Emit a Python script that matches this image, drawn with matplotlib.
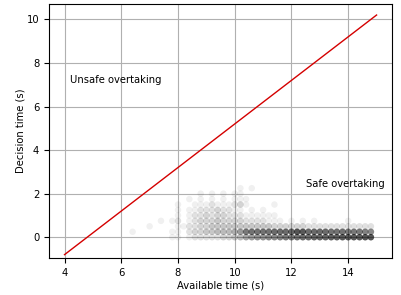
import numpy as np
import matplotlib
matplotlib.use("Agg")
import matplotlib.pyplot as plt

# grid of observed (available, decision) times, counts per cell
x_cols = np.round(6.4 + 0.2 * np.arange(43), 1)
y_rows = [0.0, 0.25, 0.5, 0.75, 1.0, 1.25, 1.5, 1.75, 2.0, 2.25]

n_000 = [0,0,0,0,0,0,0,1,1,0,1,2,2,2,2,2,3,3,4,5,7,8,9,9,10,10,11,12,12,13,14,14,15,15,15,16,16,17,17,17,17,18,18]
n_025 = [1,0,0,0,0,0,0,1,1,0,2,3,3,4,4,5,5,5,6,8,12,13,13,13,13,14,14,14,15,18,17,14,14,14,14,13,13,13,12,12,12,11,10]
n_050 = [0,0,0,1,0,0,0,0,1,1,2,2,3,3, 4,4,4,4,4,4,4,4,4,4,4, 3,3,3,3,3,3, 2,2,2,2,2,2,2,2,2,2,2,2]
n_075 = [0,0,0,0,0,1,0,1,2,0,1,2,3,3,3,4,3,3,3,3,2,2,2,2,1,1,1,0,1,0,1,0,1,0,0,0,0,0,1,0,0,0,0]
n_100 = [0]*8 + [1,0,1,2,2,3,2,3,3,2,2,2,1,1,1,1,1,1] + [0]*17
n_125 = [0]*8 + [1,0,1,1,2,2,2,3,2,2,1,1,0,1,0,1] + [0]*19
n_150 = [0]*8 + [1,0,0,1,1,1,2,1,1,1,2,3,1,0,0,0,0,1] + [0]*17
n_175 = [0]*10 + [1,0,1,0,1,0,1,0,1,1,1] + [0]*22
n_200 = [0]*12 + [1,0,1,0,1,0,1,1] + [0]*23
n_225 = [0]*19 + [1,0,1] + [0]*21
counts = np.array([n_000, n_025, n_050, n_075, n_100, n_125, n_150, n_175, n_200, n_225])

# boundary line decision = available - 4.8
line_x = [4, 15]
line_y = [-0.8, 10.2]

plt.rcParams['font.size'] = 7.2

fig = plt.figure(figsize=(4.01, 2.95), dpi=100)
ax = fig.add_axes([0.122, 0.125, 0.856, 0.861])

xx, yy = np.meshgrid(x_cols, y_rows)
keep = counts > 0
a = 1 - (1 - 0.06) ** counts[keep]
cols = np.zeros((a.size, 4))
cols[:, 3] = a
ax.scatter(xx[keep], yy[keep], s=22, c=cols, linewidths=0, zorder=2)

ax.plot(line_x, line_y, color='#d40000', lw=1, zorder=3)

ax.text(4.18, 7.1, "Unsafe overtaking")
ax.text(12.5, 2.3, "Safe overtaking")

ax.set_xlim(3.45, 15.55)
ax.set_ylim(-0.96, 10.7)
ax.set_xticks([4, 6, 8, 10, 12, 14])
ax.set_yticks([0, 2, 4, 6, 8, 10])
ax.grid(True, zorder=0)
ax.set_axisbelow(True)
ax.set_xlabel("Available time (s)", labelpad=2)
ax.set_ylabel("Decision time (s)", labelpad=1)

fig.savefig("out.png", dpi=100)
